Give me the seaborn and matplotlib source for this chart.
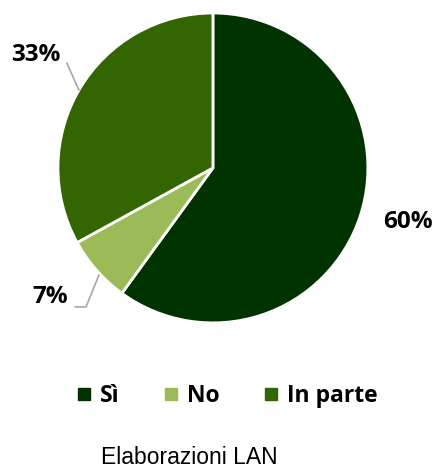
import matplotlib
matplotlib.use("Agg")
import matplotlib.pyplot as plt
import seaborn as sns
from matplotlib.lines import Line2D

# Data
categories = ["Sì", "No", "In parte"]
values = [60, 7, 33]
labels = ["60%", "7%", "33%"]
colors = ["#003300", "#9BBB59", "#336600"]

sns.set_theme(style="white")
plt.rcParams["font.family"] = ["Open Sans", "DejaVu Sans"]
palette = sns.color_palette(colors)

fig = plt.figure(figsize=(4.34, 4.72), dpi=100)
ax = fig.add_axes([0.1336, 0.3157, 0.714, 0.657])

wedges, _ = ax.pie(values, colors=palette, startangle=90, counterclock=False,
                   radius=1.0, wedgeprops=dict(edgecolor="white", linewidth=2))
ax.set_xlim(-1, 1)
ax.set_ylim(-1, 1)
ax.set_aspect("equal")
ax.axis("off")

# labels around the pie
lab_pos = [(1.26, -0.35), (-1.05, -0.83), (-1.14, 0.73)]
for txt, (x, y) in zip(labels, lab_pos):
    ax.text(x, y, txt, ha="center", va="center", fontsize=17.5, fontweight="bold",
            color="black", clip_on=False)

# leader lines
gray = "#A6A6A6"
ax.plot([-0.943, -0.865], [0.677, 0.503], color=gray, lw=1.2, clip_on=False)
ax.plot([-0.735, -0.819, -0.89], [-0.690, -0.897, -0.897], color=gray, lw=1.2,
        clip_on=False)

# legend
handles = [Line2D([0], [0], marker="s", linestyle="", markersize=8,
                  markerfacecolor=c, markeredgecolor=c) for c in colors]
fig.legend(handles, categories, loc="center", bbox_to_anchor=(0.516, 0.162),
           ncol=3, frameon=False, handletextpad=0.1, columnspacing=1.65,
           handlelength=1.2, labelcolor="black",
           prop=dict(weight="bold", size=16.5))

fig.text(0.437, 0.03, "Elaborazioni LAN", ha="center", va="center",
         fontsize=16.5, family="Liberation Sans", color="black")

fig.savefig("out.png", dpi=100)
